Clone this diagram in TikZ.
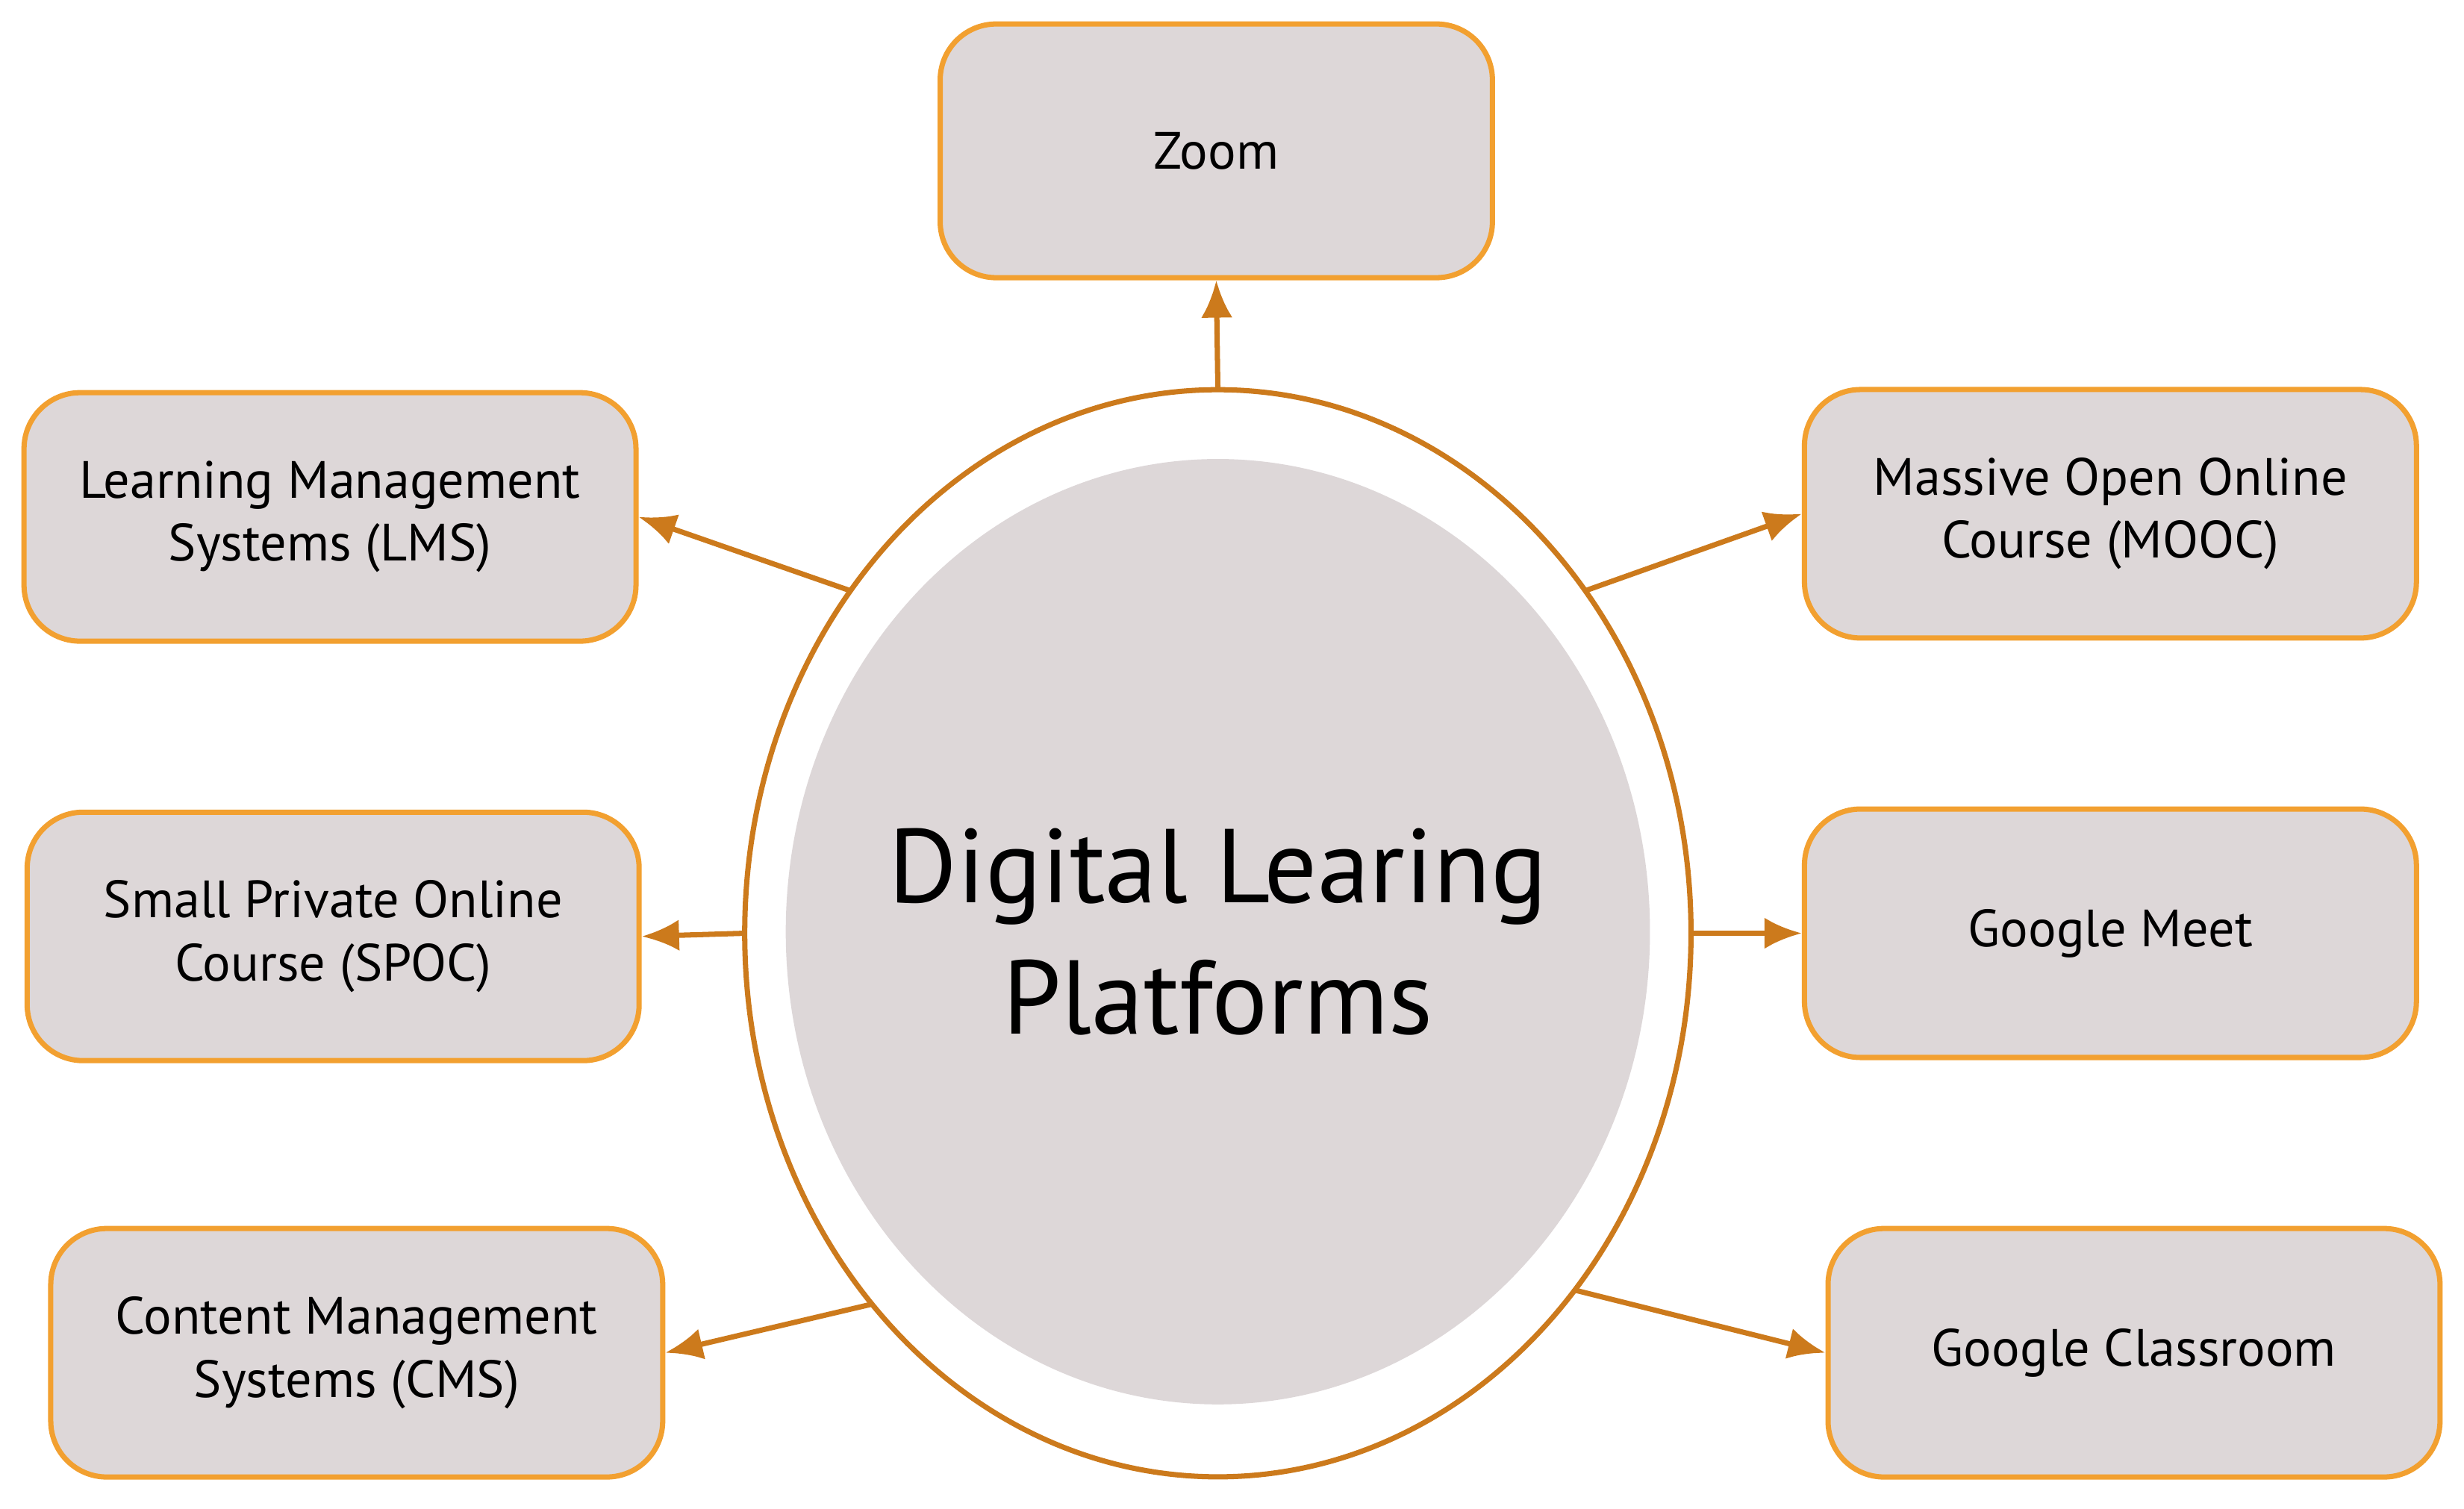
\documentclass[tikz,border=0pt]{standalone}
\usepackage{fontspec}
\setmainfont{PT Sans}
\usetikzlibrary{shapes.geometric,arrows.meta}
\definecolor{boxgray}{RGB}{221,215,216}
\definecolor{rimorange}{RGB}{242,160,48}
\definecolor{arrorange}{RGB}{204,122,28}
\tikzset{
  platform/.style={rectangle,rounded corners=0.75cm,draw=rimorange,line width=2pt,
    fill=boxgray,minimum width=8.2cm,minimum height=3.33cm,align=center,
    font=\fontsize{20}{24}\selectfont},
  link/.style={-{Latex[length=0.5cm,width=0.42cm]},draw=arrorange,line width=2pt}
}
\begin{document}
\begin{tikzpicture}[x=0.02105cm,y=-0.02105cm]
    \useasboundingbox (0,0) rectangle (1568,960);
    % hub of the diagram
    \node[ellipse,draw=arrorange,line width=2pt,fill=white,inner sep=0pt,outer sep=0pt,
      minimum width=12.68cm,minimum height=14.57cm] (hub) at (775,594) {};
    \node[ellipse,fill=boxgray,inner sep=0pt,minimum width=11.58cm,minimum height=12.67cm] (core) at (775,593) {};
    \node[align=center,font=\fontsize{40}{50}\selectfont] (title) at (core) {Digital Learing\\Platforms};

    % platforms
    \node[platform,minimum width=7.4cm,minimum height=3.4cm] (zoom) at (774,96) {Zoom};
    \node[platform] (lms) at (210,329) {Learning Management\\Systems (LMS)};
    \node[platform] (spoc) at (212,596) {Small Private Online\\Course (SPOC)};
    \node[platform] (cms) at (227,861) {Content Management\\Systems (CMS)};
    \node[platform] (mooc) at (1343,327) {Massive Open Online\\Course (MOOC)};
    \node[platform] (meet) at (1343,594) {Google Meet};
    \node[platform] (classroom) at (1358,861) {Google Classroom};

    \draw[link] (hub.north) -- (zoom.south);
    \draw[link] (hub.137) -- (lms.east);
    \draw[link] (hub.west) -- (spoc.east);
    \draw[link] (hub.227) -- (cms.east);
    \draw[link] (hub.43) -- (mooc.west);
    \draw[link] (hub.east) -- (meet.west);
    \draw[link] (hub.-45) -- (classroom.west);
\end{tikzpicture}
\end{document}
